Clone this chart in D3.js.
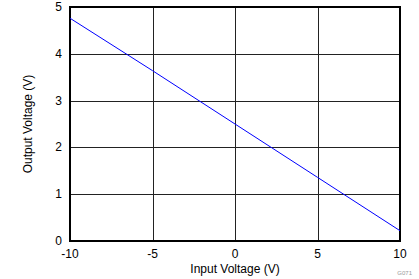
<!DOCTYPE html>
<meta charset="utf-8">
<script src="https://d3js.org/d3.v7.min.js"></script>
<style>
  body { margin: 0; background: #fff; }
  text { font-family: "Liberation Sans", Arial, sans-serif; }
</style>
<div id="chart"></div>
<script>
// data
var inputV = [-10, -5, 0, 5, 10];
var outputV = [4.76, 3.64, 2.5, 1.36, 0.22];
var xTicks = [-10, -5, 0, 5, 10];
var yTicks = [0, 1, 2, 3, 4, 5];

var W = 419, H = 279;
var margin = {top: 7, right: 19, bottom: 38, left: 70};
var width = W - margin.left - margin.right,
    height = H - margin.top - margin.bottom;

var svg = d3.select("#chart").append("svg")
    .attr("width", W).attr("height", H);
var g = svg.append("g")
    .attr("transform", "translate(" + margin.left + "," + margin.top + ")");

var x = d3.scaleLinear().domain([-10, 10]).range([0, width]);
var y = d3.scaleLinear().domain([0, 5]).range([height, 0]);

// grid
g.selectAll(".vg").data(xTicks).enter().append("line")
    .attr("x1", d => Math.round(x(d)) + 0.5).attr("x2", d => Math.round(x(d)) + 0.5)
    .attr("y1", 0).attr("y2", height)
    .attr("stroke", "#222").attr("stroke-width", 1);
g.selectAll(".hg").data(yTicks).enter().append("line")
    .attr("y1", d => Math.round(y(d)) + 0.5).attr("y2", d => Math.round(y(d)) + 0.5)
    .attr("x1", 0).attr("x2", width)
    .attr("stroke", "#222").attr("stroke-width", 1);

// frame
g.append("rect").attr("x", 0).attr("y", 0)
    .attr("width", width).attr("height", height)
    .attr("fill", "none").attr("stroke", "#000").attr("stroke-width", 2);

// line
var line = d3.line().x((d, i) => x(inputV[i])).y(d => y(d));
g.append("path").datum(outputV)
    .attr("d", line)
    .attr("fill", "none").attr("stroke", "#0000ff").attr("stroke-width", 1);

// tick labels
g.selectAll(".xl").data(xTicks).enter().append("text")
    .attr("x", d => x(d)).attr("y", height + 17)
    .attr("text-anchor", "middle").style("font-size", "12px")
    .text(d => d);
g.selectAll(".yl").data(yTicks).enter().append("text")
    .attr("x", -8).attr("y", d => y(d) + 4)
    .attr("text-anchor", "end").style("font-size", "12px")
    .text(d => d);

// axis titles
g.append("text")
    .attr("x", width / 2).attr("y", height + 32)
    .attr("text-anchor", "middle").style("font-size", "12px")
    .text("Input Voltage (V)");
g.append("text")
    .attr("transform", "translate(-38," + (height / 2) + ") rotate(-90)")
    .attr("text-anchor", "middle").style("font-size", "12px")
    .text("Output Voltage (V)");

svg.append("text")
    .attr("x", 412).attr("y", 275)
    .attr("text-anchor", "end").style("font-size", "6px").attr("fill", "#999")
    .text("G071");
</script>
